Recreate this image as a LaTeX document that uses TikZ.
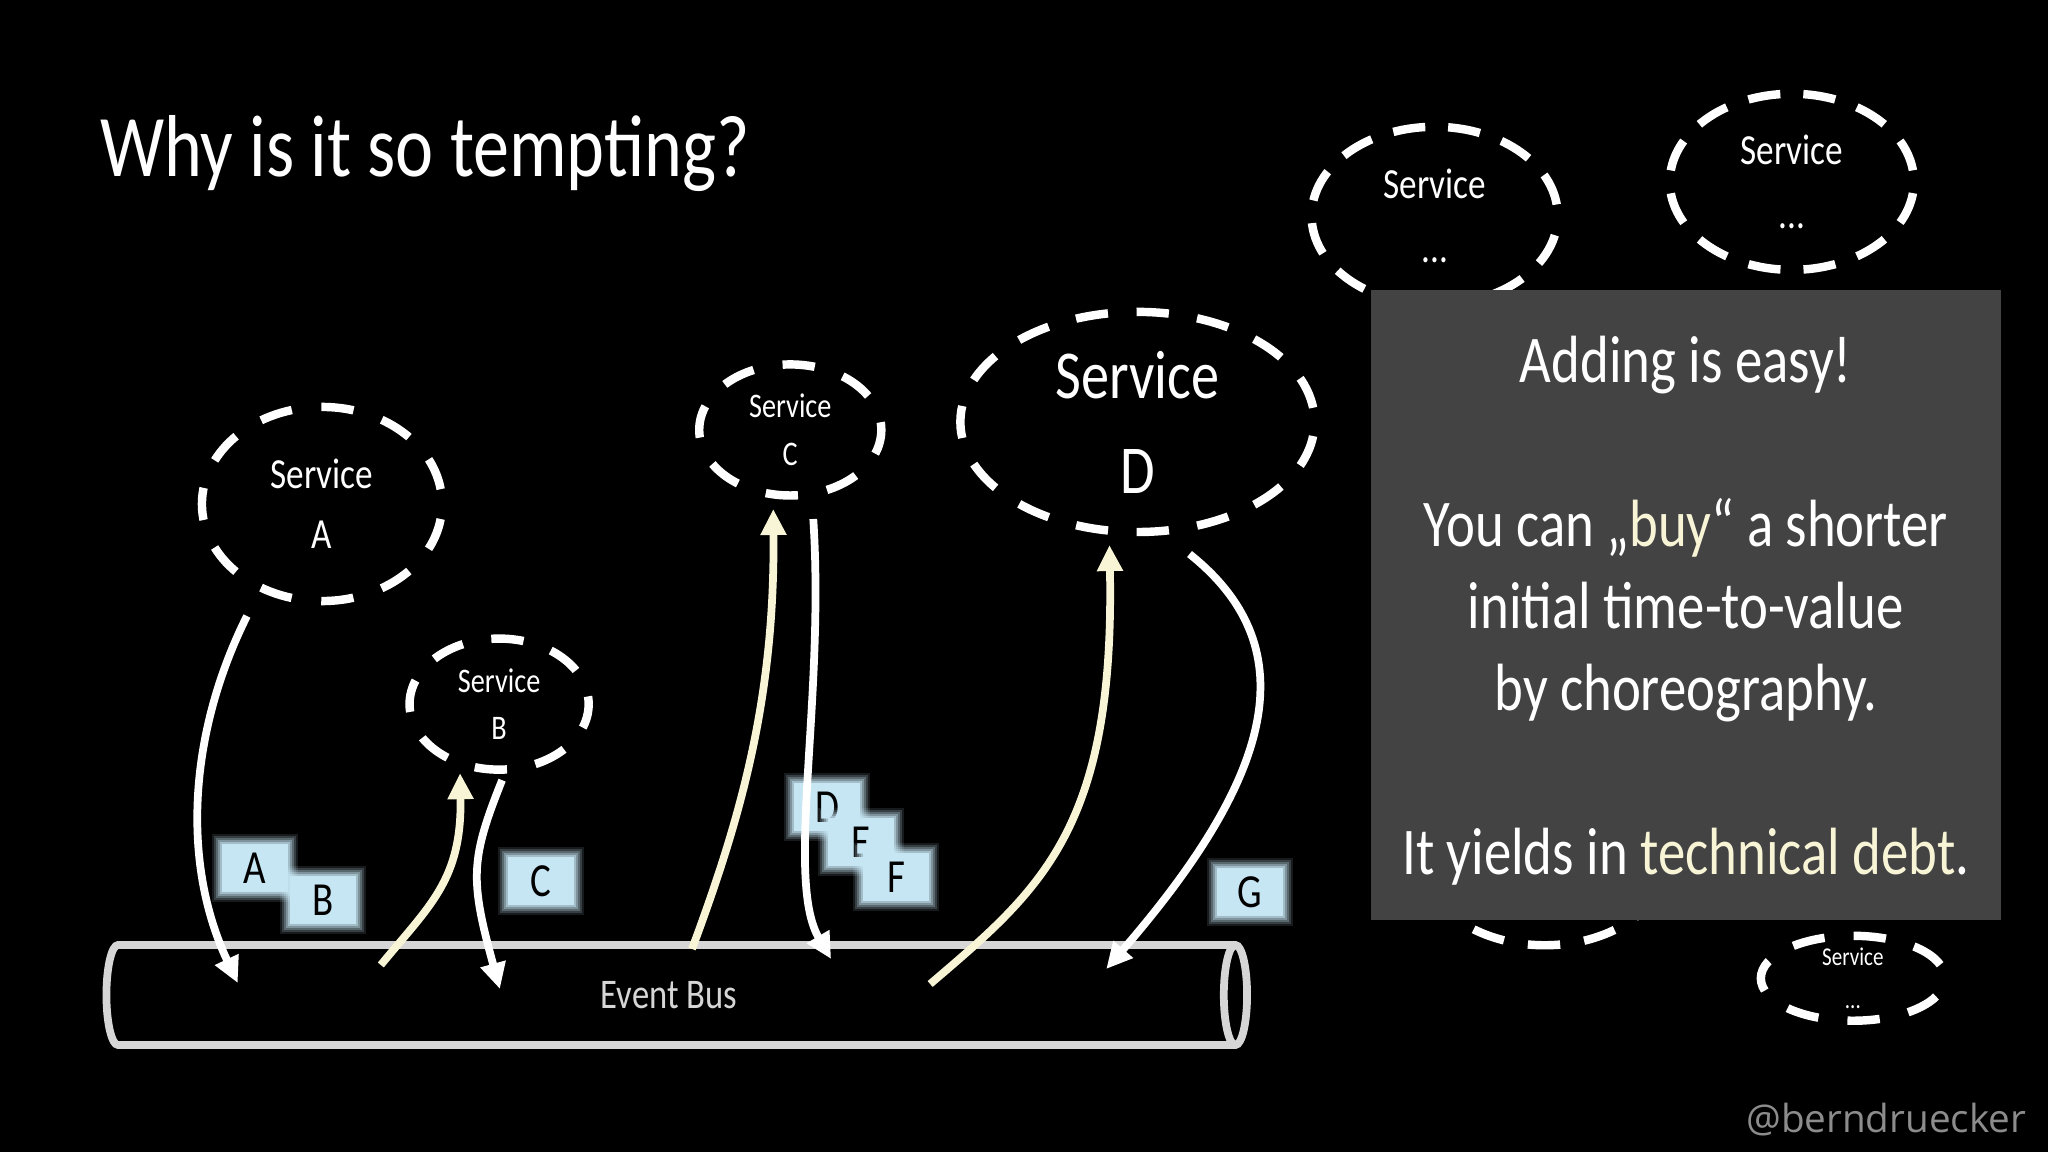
\documentclass[tikz,border=0pt]{standalone}
\usepackage{fontspec}
\usepackage{xcolor}
\setmainfont[FakeStretch=0.82]{Carlito}
\newfontfamily\handlefont{Open Sans}
\usetikzlibrary{shapes.geometric,arrows.meta}
\definecolor{msgblue}{HTML}{C6E6F4}
\definecolor{hint}{HTML}{F8F5D6}
\definecolor{busgray}{HTML}{D6D6D6}
\definecolor{panel}{HTML}{444344}
\definecolor{handle}{HTML}{8C8C8C}
\tikzset{
  service/.style={draw=white, ellipse, inner sep=0pt, text=white, align=center, line width=2.4pt, dash pattern=on 9.2pt off #1, dash phase=9.2pt+0.5*#1},
  msg/.style={fill=msgblue, text=black, inner sep=0pt, minimum width=.66cm, minimum height=.48cm, font=\fontsize{13.5}{15}\selectfont,
    preaction={draw=msgblue, opacity=.12, line width=.20cm}, preaction={draw=msgblue, opacity=.18, line width=.16cm}, preaction={draw=msgblue, opacity=.25, line width=.12cm},
    preaction={draw=msgblue, opacity=.35, line width=.08cm}, preaction={draw=msgblue, opacity=.5, line width=.04cm}},
  emit/.style={->, >={Triangle[length=7.4pt,width=7pt]}, line width=2.2pt, hint},
  consume/.style={->, >={Triangle[length=7.4pt,width=7pt]}, line width=2.2pt, white},
}

\begin{document}
\begin{tikzpicture}[x=0.01cm, y=-0.01cm]
\path[use as bounding box, fill=black] (0,0) rectangle (2048,1152);

\node[text=white, font=\fontsize{25}{29}\selectfont] (title) at (425,154) {Why is it so tempting?};

\node[service=8.48pt, minimum width=2.40cm, minimum height=1.94cm, font=\fontsize{12.2}{17}\selectfont] (svcA) at (322,504) {Service\\A};
\node[service=8.23pt, dash phase=7pt, minimum width=1.79cm, minimum height=1.31cm, font=\fontsize{9.8}{13.4}\selectfont, xshift=0.77cm, yshift=-2.00cm, right of=svcA] (svcB) {Service\\B};
\node[service=8.4pt, dash phase=7pt, minimum width=1.82cm, minimum height=1.31cm, font=\fontsize{9.8}{13.6}\selectfont, xshift=1.91cm, yshift=2.74cm, right of=svcB] (svcC) {Service\\C};
\node[service=8.14pt, minimum width=3.54cm, minimum height=2.20cm, font=\fontsize{19.5}{27}\selectfont, xshift=2.47cm, yshift=0.08cm, right of=svcC] (svcD) {Service\\D};
\node[service=6.5pt, minimum width=2.46cm, minimum height=1.78cm, font=\fontsize{12.2}{18}\selectfont, xshift=1.97cm, yshift=2.06cm, right of=svcD] (svcE) {Service\\...};
\node[service=6.55pt, minimum width=2.44cm, minimum height=1.76cm, font=\fontsize{12.2}{18}\selectfont, xshift=2.57cm, yshift=0.34cm, right of=svcE] (svcF) {Service\\...};
\node[service=6.9pt, dash phase=4.6pt, minimum width=2.50cm, minimum height=1.80cm, xshift=3.07cm, yshift=-4.33cm, right of=svcD] (svcG) {};
\node[service=8.3pt, minimum width=1.84cm, minimum height=0.80cm, font=\fontsize{7.3}{12}\selectfont, xshift=2.08cm, yshift=-1.23cm, right of=svcG] (svcH) {Service\\...};

\node[fill=panel, text=white, align=center, minimum width=6.30cm, minimum height=6.30cm, inner sep=0pt, font=\fontsize{19}{23.3}\selectfont, xshift=4.48cm, yshift=-1.83cm, right of=svcD] (panel) {\rule{0pt}{16.3pt}Adding is easy!\\[23.3pt]You can „{\color{hint}buy}“ a shorter\\initial time-to-value\\by choreography.\\[23.3pt]It yields in {\color{hint}technical debt}.};

\node[msg, xshift=-0.67cm, yshift=-2.64cm, below of=svcA] (msgA) {A};
\node[msg, xshift=-0.32cm, yshift=-0.32cm, right of=msgA] (msgB) {B};
\node[msg, xshift=1.18cm, yshift=0.19cm, right of=msgB] (msgC) {C};
\node[msg, xshift=1.86cm, yshift=0.74cm, right of=msgC] (msgD) {D};
\node[msg, xshift=-0.66cm, yshift=-0.35cm, right of=msgD] (msgE) {E};
\node[msg, xshift=-0.65cm, yshift=-0.35cm, right of=msgE] (msgF) {F};
\node[msg, xshift=2.53cm, yshift=-0.15cm, right of=msgF] (msgG) {G};

\node[draw=busgray, cylinder, line width=2.2pt, text=busgray, inner sep=0pt, shape aspect=.85, minimum width=1.00cm, minimum height=11.40cm, font=\fontsize{12}{14}\selectfont] (bus) at (669,995) {Event Bus};

\draw[consume] ([xshift=-0.75cm, yshift=-1.12cm] svcA.center) .. controls (190,730) and (180,860) .. ([xshift=-4.31cm, yshift=0.12cm] bus.center);
\draw[emit] ([xshift=-2.88cm, yshift=0.30cm] bus.center) .. controls (430,905) and (462,880) .. ([xshift=-0.39cm, yshift=-0.69cm] svcB.center);
\draw[consume] ([xshift=0.03cm, yshift=-0.76cm] svcB.center) .. controls (470,860) and (470,880) .. ([xshift=-1.69cm, yshift=0.06cm] bus.center);
\draw[emit] ([xshift=0.23cm, yshift=0.46cm] bus.center) .. controls (740,820) and (775,700) .. ([xshift=-0.17cm, yshift=-0.79cm] svcC.center);
\draw[consume] ([xshift=0.23cm, yshift=-0.89cm] svcC.center) .. controls (825,700) and (785,880) .. ([xshift=1.62cm, yshift=0.36cm] bus.center);
\draw[emit] ([xshift=2.61cm, yshift=0.11cm] bus.center) .. controls (1040,890) and (1115,830) .. ([xshift=-0.28cm, yshift=-1.23cm] svcD.center);
\draw[consume] ([xshift=0.52cm, yshift=-1.32cm] svcD.center) .. controls (1310,650) and (1270,780) .. ([xshift=4.37cm, yshift=0.26cm] bus.center);

\node[anchor=east, text=handle, inner sep=0pt, font=\fontsize{11}{13}\handlefont] (handle) at (2027,1120) {@berndruecker};
\end{tikzpicture}
\end{document}
